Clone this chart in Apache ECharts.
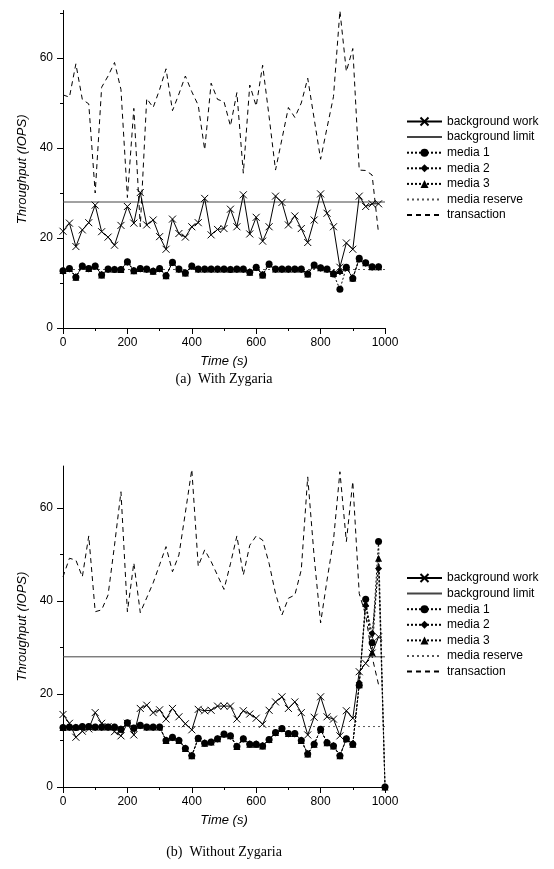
<!DOCTYPE html>
<html>
<head>
<meta charset="utf-8">
<script src="https://cdn.jsdelivr.net/npm/echarts@6/dist/echarts.min.js"></script>
<style>
  html, body { margin: 0; padding: 0; background: #fff; }
  #chart { width: 554px; height: 869px; }
</style>
</head>
<body>
<div id="chart"></div>
<script>
// sample times (s)
var timesA = [0,20,40,60,80,100,120,140,160,180,200,220,240,260,280,300,320,340,360,380,
  400,420,440,460,480,500,520,540,560,580,600,620,640,660,680,700,720,740,760,780,
  800,820,840,860,880,900,920,940,960,980];
var timesB = [0,20,40,60,80,100,120,140,160,180,200,220,240,260,280,300,320,340,360,380,
  400,420,440,460,480,500,520,540,560,580,600,620,640,660,680,700,720,740,760,780,
  800,820,840,860,880,900,920,940,960,980,1000];
var limitTimes = [0, 1000];

// (a) With Zygaria
var bgWorkA = [21.5,23.3,18.1,21.8,23.4,27.3,21.4,20.2,18.4,22.8,27.0,23.3,30.1,22.9,24.0,20.3,17.5,24.2,21.0,20.2,
  22.5,23.4,28.8,20.7,21.9,22.1,26.4,22.5,29.6,20.9,24.6,19.3,22.5,29.3,27.9,22.9,24.9,22.1,19.0,24.0,
  29.8,25.5,22.5,13.5,18.9,17.5,29.3,27.0,27.6,27.6];
var media1A = [12.7,13.2,11.3,13.8,13.2,13.8,11.8,13.1,13.0,13.0,14.7,12.7,13.2,13.1,12.6,13.2,11.6,14.6,13.1,12.2,
  13.8,13.1,13.1,13.1,13.1,13.1,13.0,13.1,13.1,12.4,13.5,11.8,14.2,13.1,13.1,13.1,13.1,13.1,12.0,14.0,
  13.4,13.1,12.0,8.6,13.5,11.0,15.5,14.5,13.6,13.6];
var media2A = [12.6,13.1,11.4,13.7,13.1,13.7,11.9,13.0,13.0,13.0,14.6,12.8,13.1,13.0,12.7,13.1,11.7,14.5,13.0,12.3,
  13.7,13.0,13.0,13.0,13.0,13.0,13.0,13.0,13.0,12.5,13.4,11.9,14.1,13.0,13.0,13.0,13.0,13.0,12.1,13.9,
  13.3,13.0,12.2,12.5,13.4,11.2,15.3,14.4,13.5,13.5];
var media3A = [12.8,13.2,11.3,13.8,13.2,13.8,11.8,13.1,13.1,13.0,14.7,12.7,13.2,13.1,12.6,13.2,11.6,14.6,13.1,12.2,
  13.8,13.1,13.1,13.1,13.1,13.1,13.1,13.1,13.1,12.4,13.5,11.8,14.2,13.1,13.1,13.1,13.1,13.1,12.0,14.0,
  13.4,13.1,12.1,12.8,13.5,11.1,15.4,14.5,13.6,13.6];
var transA = [51.8,51.3,58.7,50.8,49.8,30.0,53.5,56.0,59.0,53.0,29.0,48.8,22.5,51.0,49.0,53.0,57.6,48.3,52.0,56.0,
  52.5,49.5,39.6,54.4,50.8,50.3,44.9,52.3,34.4,54.0,49.3,58.4,47.0,35.1,42.0,49.0,46.8,50.0,55.5,46.5,
  37.5,44.5,51.4,70.5,57.0,62.1,35.1,35.0,34.0,21.0];

// (b) Without Zygaria
var bgWorkB = [15.6,13.7,10.7,12.0,12.5,16.0,13.7,13.0,11.9,11.0,13.7,11.2,16.9,17.6,16.0,16.6,14.6,16.9,15.1,13.6,
  12.3,16.7,16.4,16.5,17.4,17.4,17.4,14.6,16.4,15.7,14.8,13.5,16.5,18.3,19.4,16.9,18.3,16.0,11.2,15.0,
  19.4,15.1,14.6,11.0,16.4,14.8,24.8,26.6,28.8,32.3];
var media1B = [12.8,12.9,12.8,13.0,13.0,12.9,12.9,12.9,12.9,12.4,13.8,12.7,13.3,12.9,12.9,12.9,10.0,10.7,10.0,8.3,
  6.7,10.5,9.4,9.7,10.4,11.4,11.0,8.7,10.4,9.2,9.2,8.8,10.2,11.7,12.6,11.5,11.5,10.0,7.1,9.2,
  12.4,9.5,8.8,6.7,10.4,9.2,21.9,40.4,31.0,52.8,0];
var media2B = [12.7,12.8,12.8,12.9,12.9,12.8,12.8,12.8,12.8,12.5,13.7,12.6,13.2,12.8,12.8,12.8,10.1,10.6,10.1,8.4,
  6.8,10.4,9.5,9.6,10.3,11.3,10.9,8.8,10.3,9.3,9.3,8.9,10.1,11.6,12.5,11.4,11.4,10.1,7.2,9.3,
  12.3,9.6,8.9,6.8,10.3,9.3,22.4,39.0,33.0,47.0,0];
var media3B = [12.8,12.9,12.9,13.0,13.0,12.9,12.9,12.9,12.9,12.4,13.8,12.7,13.3,12.9,12.9,12.9,10.0,10.7,10.0,8.3,
  6.7,10.5,9.4,9.7,10.4,11.4,11.0,8.7,10.4,9.2,9.2,8.8,10.2,11.7,12.6,11.5,11.5,10.0,7.1,9.2,
  12.4,9.5,8.8,6.7,10.4,9.2,22.0,39.5,29.0,49.2,0];
var transB = [45.2,49.2,48.8,45.2,54.0,37.7,38.1,41.3,52.0,63.5,37.7,48.2,37.5,40.7,43.9,47.8,51.7,46.3,49.9,59.0,
  68.3,47.5,51.0,48.5,45.5,42.5,48.0,54.0,45.6,52.0,54.0,53.1,48.1,41.6,37.0,40.6,41.3,46.7,66.7,49.5,
  35.3,44.5,53.1,67.8,52.8,65.7,41.6,37.0,28.0,22.0];

var limitValue = [28, 28];
var reserveValue = [13, 13];

var names = ['background work', 'background limit', 'media 1', 'media 2', 'media 3', 'media reserve', 'transaction'];
var noMarker = ['background limit', 'media reserve', 'transaction'];
var yMajor = [0, 20, 40, 60];
var yMinorA = [10, 30, 50, 70];
var yMinorB = [10, 30, 50];

var FONT = 'Liberation Sans';

function pairs(xs, ys) {
  return ys.map(function (v, i) { return [xs[i], v]; });
}

function makeSeries(g, bg, m1, m2, m3, tr, tm, tmB) {
  var common = { xAxisIndex: g, yAxisIndex: g * 2, animation: false, silent: true };
  return [
    Object.assign({
      name: names[0], type: 'line', data: pairs(tm, bg), z: 6,
      symbol: 'path://M0,0L10,10M10,0L0,10', symbolSize: 7,
      itemStyle: { color: '#000', borderColor: '#000', borderWidth: 1 },
      lineStyle: { color: '#000', width: 1 }
    }, common),
    Object.assign({
      name: names[1], type: 'line', data: pairs(limitTimes, limitValue), symbol: 'none',
      itemStyle: { color: '#444' }, lineStyle: { color: '#444', width: 1 }
    }, common),
    Object.assign({
      name: names[2], type: 'line', data: pairs(tmB, m1), symbol: 'circle', symbolSize: 7, z: 5,
      itemStyle: { color: '#000' }, lineStyle: { color: '#000', width: 1, type: [2, 2] }
    }, common),
    Object.assign({
      name: names[3], type: 'line', data: pairs(tmB, m2), symbol: 'diamond', symbolSize: 7, z: 4,
      itemStyle: { color: '#000' }, lineStyle: { color: '#000', width: 1, type: [2, 2] }
    }, common),
    Object.assign({
      name: names[4], type: 'line', data: pairs(tmB, m3), symbol: 'triangle', symbolSize: 7, z: 4,
      itemStyle: { color: '#000' }, lineStyle: { color: '#000', width: 1, type: [2, 2] }
    }, common),
    Object.assign({
      name: names[5], type: 'line', data: pairs(limitTimes, reserveValue), symbol: 'none',
      itemStyle: { color: '#555' }, lineStyle: { color: '#555', width: 1, type: [2, 3] }
    }, common),
    Object.assign({
      name: names[6], type: 'line', data: pairs(tm, tr), symbol: 'none', z: 3,
      itemStyle: { color: '#000' }, lineStyle: { color: '#000', width: 1, type: [5, 4] }
    }, common)
  ];
}

function xAxisFor(g) {
  return {
    gridIndex: g, type: 'value', min: 0, max: 1000, interval: 200,
    axisLine: { lineStyle: { color: '#000', width: 1 } },
    axisTick: { length: 6, lineStyle: { color: '#000' } },
    minorTick: { show: true, splitNumber: 2, length: 3, lineStyle: { color: '#000' } },
    axisLabel: { margin: 9, color: '#000', fontFamily: FONT, fontSize: 12,
      formatter: function (v) { return String(v); } },
    splitLine: { show: false },
    name: 'Time (s)', nameLocation: 'middle', nameGap: 27,
    nameTextStyle: { fontFamily: FONT, fontSize: 13, fontStyle: 'italic', color: '#000' }
  };
}

function yAxesFor(g, max, minors) {
  return [{
    gridIndex: g, type: 'value', min: 0, max: max, interval: 20, position: 'left', offset: 0,
    axisLine: { show: true, lineStyle: { color: '#000', width: 1 } },
    axisTick: { length: 6, customValues: yMajor, lineStyle: { color: '#000' } },
    axisLabel: { customValues: yMajor, margin: 10, color: '#000', fontFamily: FONT, fontSize: 12 },
    splitLine: { show: false },
    name: 'Throughput (IOPS)', nameLocation: 'middle', nameGap: 33,
    nameTextStyle: { fontFamily: FONT, fontSize: 13, fontStyle: 'italic', color: '#000' }
  }, {
    gridIndex: g, type: 'value', min: 0, max: max, interval: 10, position: 'left', offset: 0,
    axisLine: { show: true, lineStyle: { color: '#000', width: 1 } },
    axisTick: { length: 3, customValues: minors, lineStyle: { color: '#000' } },
    axisLabel: { show: false },
    splitLine: { show: false }
  }];
}

function legendAt(top) {
  return {
    top: top, left: 406, padding: 0, orient: 'vertical', itemWidth: 35, itemHeight: 10, itemGap: 3.6,
    selectedMode: false,
    data: names.map(function (n) {
      return noMarker.indexOf(n) >= 0
        ? { name: n, itemStyle: { opacity: 0, color: 'transparent', borderWidth: 0 } }
        : { name: n };
    }),
    textStyle: { fontFamily: FONT, fontSize: 12, color: '#000' }
  };
}

var chart = echarts.init(document.getElementById('chart'), null, { renderer: 'canvas' });

chart.setOption({
  animation: false,
  backgroundColor: '#fff',
  grid: [
    { left: 63, top: 10.75, width: 322, height: 317.25 },
    { left: 63, top: 466.2, width: 322, height: 320.8 }
  ],
  xAxis: [xAxisFor(0), xAxisFor(1)],
  yAxis: yAxesFor(0, 70.5, yMinorA).concat(yAxesFor(1, 69, yMinorB)),
  legend: [legendAt(115.5), legendAt(572)],
  graphic: [
    { type: 'text', style: { text: '(a)  With Zygaria', x: 224, y: 379, align: 'center', verticalAlign: 'middle', font: '14px "Liberation Serif"', fill: '#000' } },
    { type: 'text', style: { text: '(b)  Without Zygaria', x: 224, y: 852, align: 'center', verticalAlign: 'middle', font: '14px "Liberation Serif"', fill: '#000' } }
  ],
  series: makeSeries(0, bgWorkA, media1A, media2A, media3A, transA, timesA, timesA)
    .concat(makeSeries(1, bgWorkB, media1B, media2B, media3B, transB, timesA, timesB))
});

window.addEventListener('resize', chart.resize);
</script>
</body>
</html>
